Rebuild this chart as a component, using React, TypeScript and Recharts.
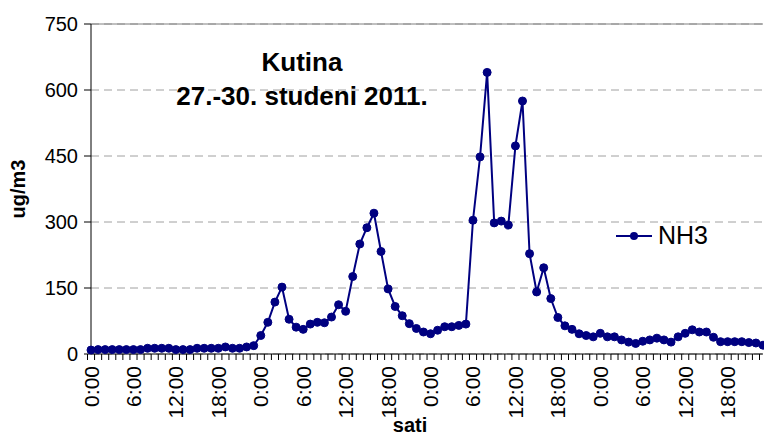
import React from 'react';
import { ComposedChart, Line, XAxis, YAxis, CartesianGrid, ReferenceLine, Legend, Label } from 'recharts';

// NH3 hourly concentrations, 27.-30. studeni 2011 (ug/m3), 4 days x 24 h
const hours = Array.from({ length: 96 }, (_, i) => `${i % 24}:00`);
const day27 = [9, 10, 10, 10, 10, 10, 10, 10, 13, 13, 13, 13, 10, 10, 10, 13, 13, 13, 13, 16, 13, 13, 16, 19];
const day28 = [42, 72, 118, 152, 79, 61, 56, 68, 72, 71, 84, 112, 97, 176, 250, 287, 320, 233, 148, 108, 87, 69, 58, 50];
const day29 = [46, 54, 62, 62, 65, 68, 304, 448, 640, 298, 302, 293, 473, 575, 228, 141, 196, 126, 83, 64, 56, 46, 42, 39];
const day30 = [47, 39, 39, 32, 27, 24, 29, 32, 36, 32, 27, 39, 47, 55, 50, 50, 38, 28, 28, 28, 28, 26, 25, 20];
const nh3 = [...day27, ...day28, ...day29, ...day30];
const yTicks = [0, 150, 300, 450, 600, 750];

const data = hours.map((t, i) => ({ t, nh3: nh3[i] }));

const FONT = 'Arial, "Liberation Sans", sans-serif';
const NAVY = '#000080';
const W = 764;
const H = 437;
const PLOT_LEFT = 91;
const PLOT_RIGHT = 763;
const BAND = (PLOT_RIGHT - PLOT_LEFT) / hours.length;

const HourTick = (props: any) => {
  const { x, y, payload } = props;
  const index = props.index ?? payload?.index ?? 0;
  return (
    <g>
      <line x1={x - BAND / 2} x2={x - BAND / 2} y1={y} y2={y + 6} stroke="#000" />
      {index === hours.length - 1 && <line x1={x + BAND / 2} x2={x + BAND / 2} y1={y} y2={y + 6} stroke="#000" />}
      {index % 6 === 0 && (
        <text transform={`translate(${x + 7.5},${y + 12}) rotate(-90)`} textAnchor="end" fontSize={21} fontFamily={FONT} fill="#000">
          {payload.value}
        </text>
      )}
    </g>
  );
};

const LegendBox = () => (
  <div style={{ display: 'flex', alignItems: 'center', fontFamily: FONT, fontSize: 25, color: '#000' }}>
    <svg width={36} height={12}>
      <line x1={0} x2={36} y1={6} y2={6} stroke={NAVY} strokeWidth={2} />
      <circle cx={18} cy={6} r={4} fill={NAVY} />
    </svg>
    <span style={{ marginLeft: 6 }}>NH3</span>
  </div>
);

export default function App() {
  return (
    <div style={{ position: 'absolute', left: 0, top: 0, width: W, height: H, background: '#fff' }}>
      <ComposedChart width={W} height={H} data={data} margin={{ top: 24, right: W - PLOT_RIGHT, left: 0, bottom: 0 }}>
        <CartesianGrid vertical={false} stroke="#a0a0a0" strokeDasharray="8 5" />
        <XAxis dataKey="t" interval={0} height={83} tickSize={0} tickMargin={0} tickLine={false}
          axisLine={{ stroke: '#000' }} tick={<HourTick />}>
          <Label content={() => (
            <text x={410} y={432} textAnchor="middle" fontFamily={FONT} fontSize={20} fontWeight="bold" fill="#000">sati</text>
          )} />
        </XAxis>
        <YAxis domain={[0, 750]} ticks={yTicks} width={PLOT_LEFT} tickSize={7} tickMargin={6}
          axisLine={{ stroke: '#000' }} tickLine={{ stroke: '#000' }}
          tick={{ fontSize: 20, fontFamily: FONT, fill: '#000' }}>
          <Label content={() => (
            <text transform="translate(25,189) rotate(-90)" textAnchor="middle" fontFamily={FONT} fontSize={20} fontWeight="bold" fill="#000">ug/m3</text>
          )} />
        </YAxis>
        <YAxis yAxisId="edge" orientation="right" width={0} tick={false} tickLine={false} axisLine={{ stroke: '#808080' }} />
        <ReferenceLine y={750} stroke="#808080" />
        <Legend layout="horizontal" align="center" verticalAlign="middle" content={<LegendBox />}
          wrapperStyle={{ left: 616, top: 221, width: 'auto' }} />
        <Line type="linear" dataKey="nh3" name="NH3" stroke={NAVY} strokeWidth={2}
          dot={{ r: 4, fill: NAVY, stroke: NAVY, strokeWidth: 1 }} activeDot={false} isAnimationActive={false} />
      </ComposedChart>
      <div style={{ position: 'absolute', left: 152, top: 45, width: 300, textAlign: 'center', fontFamily: FONT, fontSize: 26, fontWeight: 'bold', lineHeight: '34px', color: '#000' }}>
        <div>Kutina</div>
        <div>27.-30. studeni 2011.</div>
      </div>
    </div>
  );
}
